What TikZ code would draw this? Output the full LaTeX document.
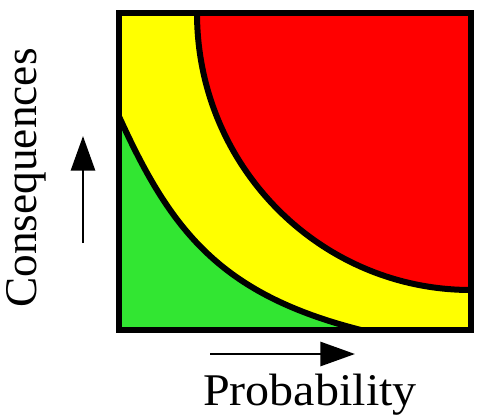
\documentclass[tikz,border=0pt]{standalone}
\usepackage{fontspec}
\setmainfont{Liberation Serif}
\usetikzlibrary{arrows.meta}
\definecolor{riskred}{RGB}{255,0,0}
\definecolor{riskyellow}{RGB}{255,255,0}
\definecolor{riskgreen}{RGB}{50,230,50}
\tikzset{
  axislabel/.style={font=\fontsize{34}{40}\selectfont, inner sep=0pt},
  axisarrow/.style={line width=2.2pt, -{Triangle[length=26pt,width=18pt]}},
  zoneline/.style={line width=4.5pt},
}
\begin{document}
\begin{tikzpicture}[x=0.75pt,y=-0.75pt]
\useasboundingbox (0,0) rectangle (481,418);
% risk zones
\begin{scope}
\clip (119,13) rectangle (471,330);
\fill[riskyellow] (119,13) rectangle (471,330);
\fill[riskgreen] (117,112) .. controls (170,230) and (219,295) .. (365,331)
  -- (110,340) -- (110,112) -- cycle;
\fill[riskred] (471,13) ellipse (274 and 277);
\draw[zoneline] (117,112) .. controls (170,230) and (219,295) .. (365,331);
\draw[zoneline] (471,13) ellipse (274 and 277);
\end{scope}
\draw[line width=5pt] (119,13) rectangle (471,330);
% axes
\node[axislabel, rotate=90] (conseq) at (26,178) {Consequences};
\node[axislabel, anchor=base, xscale=1.06] (prob) at (310,405) {Probability};
\coordinate (up0) at (83,243);
\coordinate (up1) at (83,136);
\draw[axisarrow] (up0) -- (up1);
\coordinate (right0) at (210,354);
\coordinate (right1) at (355,354);
\draw[axisarrow] (right0) -- (right1);
\end{tikzpicture}
\end{document}
